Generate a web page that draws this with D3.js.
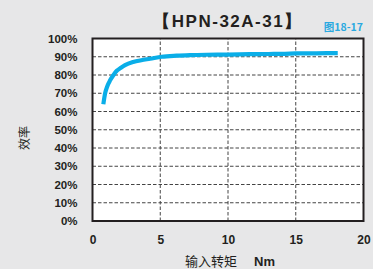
<!DOCTYPE html>
<html>
<head>
<meta charset="utf-8">
<title>HPN-32A-31</title>
<script src="https://cdn.jsdelivr.net/npm/d3@7"></script>
<style>
  body { margin:0; background:#e7e7e8; }
  svg { display:block; }
</style>
</head>
<body>
<script>
// efficiency curve
var torque = [0.8, 0.93, 1.1, 1.31, 1.55, 1.79, 2.1, 2.4, 3.0, 3.6, 4.25, 5.1, 6.2, 7.2, 8.4, 10, 11.6, 13, 14.2, 15, 16.5, 18.1];
var efficiency = [64.0, 69.9, 74.0, 77.2, 80.0, 82.3, 84.0, 85.4, 87.1, 88.1, 88.9, 90.0, 90.6, 90.9, 91.1, 91.2, 91.4, 91.5, 91.6, 91.8, 91.9, 92.0];
var xTicks = [0, 5, 10, 15, 20];
var yTicks = [0, 10, 20, 30, 40, 50, 60, 70, 80, 90, 100];

var svg = d3.select("body").append("svg")
    .attr("width", 373)
    .attr("height", 269);

var x = d3.scaleLinear().domain([0, 20]).range([92.5, 363.5]);
var y = d3.scaleLinear().domain([0, 100]).range([221, 38.5]);

var font = "'Liberation Sans', Arial, sans-serif";
var cjk = "'Noto Sans CJK SC', sans-serif";
var ink = "#231f20";

svg.append("rect")
    .attr("x", x(0)).attr("y", y(100))
    .attr("width", x(20) - x(0)).attr("height", y(0) - y(100))
    .attr("fill", "#fff");

// grid
svg.selectAll("line.hg").data(yTicks.slice(1, -1)).enter().append("line")
    .attr("class", "hg")
    .attr("x1", x(0)).attr("x2", x(20))
    .attr("y1", function(d){ return y(d); }).attr("y2", function(d){ return y(d); })
    .attr("stroke", "#444").attr("stroke-width", 1)
    .attr("stroke-dasharray", "3.5,2");

svg.selectAll("line.vg").data(xTicks.slice(1, -1)).enter().append("line")
    .attr("class", "vg")
    .attr("y1", y(0)).attr("y2", y(100))
    .attr("x1", function(d){ return x(d); }).attr("x2", function(d){ return x(d); })
    .attr("stroke", "#444").attr("stroke-width", 1)
    .attr("stroke-dasharray", "3.5,2");

// curve
var line = d3.line()
    .x(function(d, i){ return x(torque[i]); })
    .y(function(d){ return y(d); })
    .curve(d3.curveMonotoneX);

svg.append("path")
    .datum(efficiency)
    .attr("d", line)
    .attr("fill", "none")
    .attr("stroke", "#0aaee8")
    .attr("stroke-width", 4.2);

// frame
svg.append("rect")
    .attr("x", x(0)).attr("y", y(100))
    .attr("width", x(20) - x(0)).attr("height", y(0) - y(100))
    .attr("fill", "none")
    .attr("stroke", ink).attr("stroke-width", 2);

// axes labels
var yAxis = d3.axisLeft(y).tickValues(yTicks).tickSize(0).tickPadding(15)
    .tickFormat(function(d){ return d + "%"; });
var gy = svg.append("g").attr("transform", "translate(" + x(0) + ",0)").call(yAxis);
gy.select(".domain").remove();
gy.selectAll("text").attr("font-family", font).attr("font-size", 11.5)
    .attr("font-weight", "bold").attr("fill", ink);

var xAxis = d3.axisBottom(x).tickValues(xTicks).tickSize(0).tickPadding(14);
var gx = svg.append("g").attr("transform", "translate(0," + y(0) + ")").call(xAxis);
gx.select(".domain").remove();
gx.selectAll("text").attr("font-family", font).attr("font-size", 12)
    .attr("font-weight", "bold").attr("fill", ink);

// titles
svg.append("text")
    .attr("x", 228).attr("y", 27)
    .attr("text-anchor", "middle")
    .attr("font-family", font).attr("font-size", 17).attr("font-weight", "bold")
    .attr("letter-spacing", 1.5)
    .attr("fill", ink)
    .text("【HPN-32A-31】");

svg.append("text")
    .attr("x", 363).attr("y", 31)
    .attr("text-anchor", "end")
    .attr("font-family", cjk).attr("font-size", 10.5)
    .attr("font-weight", "bold")
    .attr("fill", "#2aa9e0")
    .text("图18-17");

svg.append("text")
    .attr("transform", "translate(29,138) rotate(-90)")
    .attr("text-anchor", "middle")
    .attr("font-family", cjk).attr("font-size", 12)
    .attr("fill", ink)
    .text("效率");

var xt = svg.append("text")
    .attr("x", 230).attr("y", 266)
    .attr("text-anchor", "middle")
    .attr("fill", ink);
xt.append("tspan").attr("font-family", cjk).attr("font-size", 13)
    .text("输入转矩");
xt.append("tspan").attr("font-family", font).attr("font-size", 13).attr("font-weight", "bold")
    .attr("dx", 17).text("Nm");
</script>
</body>
</html>
